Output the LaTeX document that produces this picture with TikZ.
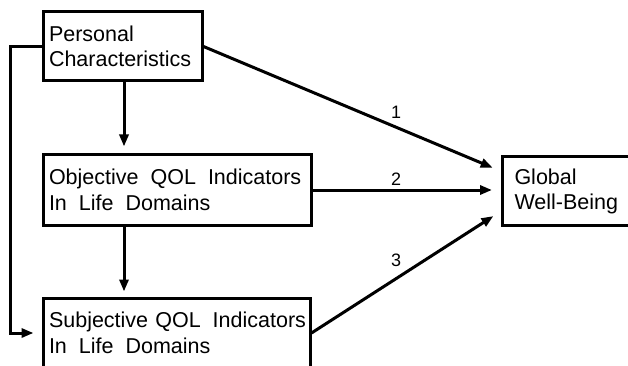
\documentclass[tikz,border=0pt]{standalone}
\usepackage{fontspec}
\setmainfont{Liberation Sans}
\usetikzlibrary{arrows.meta}

% wide gap between words inside the indicator boxes
\newcommand{\wgap}{\hspace{12pt}}

\begin{document}
\begin{tikzpicture}[x=1pt,y=-1pt,
  box/.style={draw,line width=3pt,inner ysep=0pt,inner xsep=6pt,align=left,
    font=\fontsize{21.5}{25.5}\selectfont},
  conn/.style={line width=3pt,-{Triangle[length=12pt,width=9pt]}},
  num/.style={font=\fontsize{18}{20}\selectfont,inner sep=0pt}]
  \clip (0,0) rectangle (628,366);
  \useasboundingbox (0,0) rectangle (628,366);

  \node[box,text width=147pt,minimum height=69pt] (pc) at (122.5,46.5)
    {Personal\\Characteristics};
  \node[box,text width=256pt,minimum height=70pt] (oq) at (177,190)
    {\mbox{Objective\wgap QOL\wgap Indicators}\\\mbox{In\wgap Life\wgap Domains}};
  \node[box,text width=255pt,minimum height=70pt] (sq) at (176.5,333)
    {\mbox{Subjective QOL\wgap Indicators}\\\mbox{In\wgap Life\wgap Domains}};
  \node[box,inner xsep=12pt,text width=116pt,minimum height=69pt] (gw) at (572.5,191.2)
    {Global\\Well-Being};

  % paths into global well-being
  \draw[conn,shorten >=9pt] (pc.east) -- ([yshift=20pt]gw.west);
  \draw[conn,shorten >=9pt] (oq.east) -- (oq.east -| gw.west);
  \draw[conn,shorten >=9pt] (sq.east) -- ([yshift=-20pt]gw.west);

  % paths between the left-hand boxes
  \draw[conn,shorten >=7pt] ([xshift=1.5pt]pc.south) -- ([xshift=1.5pt]pc.south |- oq.north);
  \draw[conn,shorten >=5pt] ([xshift=1.5pt]pc.south |- oq.south) -- ([xshift=1.5pt]pc.south |- sq.north);
  \draw[conn,shorten >=8pt] (pc.west) -- ++(-31,0) |- (sq.west);

  \node[num] (n1) at (396,112) {1};
  \node[num] (n2) at (396,179) {2};
  \node[num] (n3) at (396,260) {3};
\end{tikzpicture}
\end{document}
